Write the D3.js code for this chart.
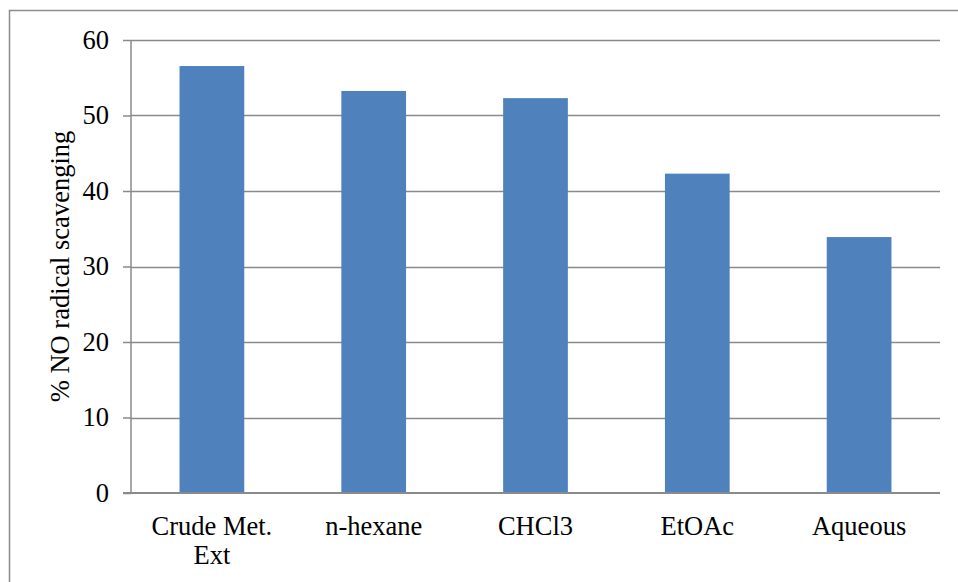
<!DOCTYPE html>
<html>
<head>
<meta charset="utf-8">
<script src="https://cdn.jsdelivr.net/npm/d3@7"></script>
<style>
  html, body { margin: 0; padding: 0; background: #fff; }
  svg { display: block; }
  text { font-family: "Liberation Serif", "Times New Roman", serif; fill: #000; }
</style>
</head>
<body>
<svg id="chart" width="958" height="582"></svg>
<script>
// NO radical scavenging by extract fraction
const categories = ["Crude Met. Ext", "n-hexane", "CHCl3", "EtOAc", "Aqueous"];
const categoryLines = [["Crude Met.", "Ext"], ["n-hexane"], ["CHCl3"], ["EtOAc"], ["Aqueous"]];
const scavenging = [56.55, 53.25, 52.3, 42.3, 33.9];
const yTicks = [0, 10, 20, 30, 40, 50, 60];
const yTitle = "% NO radical scavenging";

const W = 958, H = 582;
const FONT = "26.5px";
const margin = { top: 40, right: 18, bottom: 89, left: 131 };
const svg = d3.select("#chart");

// outer chart frame
svg.append("rect")
  .attr("x", 9.5).attr("y", 10.5)
  .attr("width", W + 20).attr("height", H + 20)
  .attr("fill", "none").attr("stroke", "#8c8c8c").attr("stroke-width", 1.5);

const x = d3.scaleBand()
  .domain(categories)
  .range([margin.left, W - margin.right])
  .paddingInner(0.6).paddingOuter(0.3);

const y = d3.scaleLinear()
  .domain([0, 60])
  .range([H - margin.bottom, margin.top]);

// horizontal gridlines
svg.append("g")
  .selectAll("line")
  .data(yTicks.filter(d => d > 0))
  .join("line")
  .attr("x1", margin.left).attr("x2", W - margin.right)
  .attr("y1", d => Math.round(y(d)) + 0.5).attr("y2", d => Math.round(y(d)) + 0.5)
  .attr("stroke", "#8a8a8a").attr("stroke-width", 1.5);

// bars
svg.append("g")
  .selectAll("rect")
  .data(scavenging)
  .join("rect")
  .attr("x", (d, i) => x(categories[i]))
  .attr("width", x.bandwidth())
  .attr("y", d => y(d))
  .attr("height", d => y(0) - y(d))
  .attr("fill", "#4F81BD");

// y axis
const yAxis = svg.append("g")
  .attr("transform", `translate(${margin.left},0)`)
  .call(d3.axisLeft(y).tickValues(yTicks).tickSize(8).tickPadding(14).tickFormat(d3.format("d")));
yAxis.select(".domain").attr("stroke", "#8a8a8a").attr("stroke-width", 1.5)
  .attr("d", `M0,${y(0)}V${y(60)}`);
yAxis.selectAll(".tick line").attr("stroke", "#8a8a8a").attr("stroke-width", 1.5);
yAxis.selectAll(".tick text")
  .style("font-family", '"Liberation Serif", "Times New Roman", serif')
  .style("font-size", FONT).attr("fill", "#000");

// x axis baseline
const xAxis = svg.append("g")
  .attr("transform", `translate(0,${y(0)})`)
  .call(d3.axisBottom(x).tickSize(0).tickFormat(""));
xAxis.select(".domain").attr("stroke", "#8a8a8a").attr("stroke-width", 2)
  .attr("d", `M${margin.left - 8},0H${W - margin.right}`);

// category labels
const labels = svg.append("g")
  .selectAll("text")
  .data(categories)
  .join("text")
  .attr("x", d => x(d) + x.bandwidth() / 2)
  .attr("y", y(0) + 42)
  .attr("text-anchor", "middle")
  .style("font-size", FONT);
labels.selectAll("tspan")
  .data((d, i) => categoryLines[i])
  .join("tspan")
  .attr("x", function () { return this.parentNode.getAttribute("x"); })
  .attr("dy", (d, i) => i === 0 ? 0 : 29)
  .text(d => d);

// y title
svg.append("text")
  .attr("transform", `translate(69,${(y(0) + y(60)) / 2}) rotate(-90)`)
  .attr("text-anchor", "middle")
  .style("font-size", FONT)
  .text(yTitle);
</script>
</body>
</html>
